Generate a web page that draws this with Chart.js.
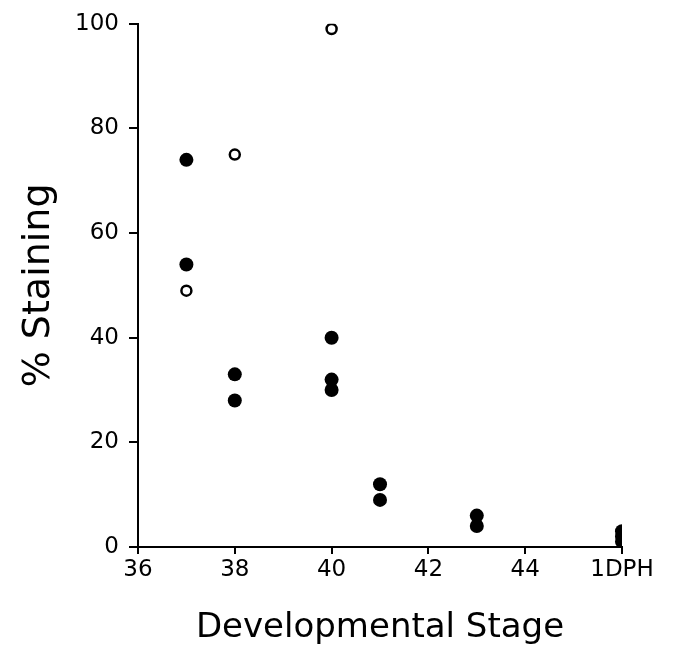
<!DOCTYPE html>
<html>
<head>
<meta charset="utf-8">
<script src="https://cdn.jsdelivr.net/npm/chart.js@4"></script>
<style>
  html, body { margin: 0; padding: 0; background: #fff; }
  #wrap { width: 673px; height: 669px; }
</style>
</head>
<body>
<div id="wrap"><canvas id="stainCanvas" width="673" height="669"></canvas></div>
<script>
// stages (46 = 1DPH) and % staining
const filledStage = [37, 37, 38, 38, 40, 40, 40, 41, 41, 43, 43, 46, 46, 46];
const filledValue = [74, 54, 33, 28, 40, 32, 30, 12, 9, 6, 4, 3, 2, 1];
const openStage = [37, 38, 40];
const openValue = [49, 75, 99];
const xTickLabels = { 36: "36", 38: "38", 40: "40", 42: "42", 44: "44", 46: "1DPH" };

const toPoints = (xs, ys) => xs.map((x, i) => ({ x: x, y: ys[i] }));
const font = "'DejaVu Sans', sans-serif";

const ctx = document.getElementById("stainCanvas").getContext("2d");
new Chart(ctx, {
    type: "scatter",
    data: {
        datasets: [
            {
                label: "filled",
                data: toPoints(filledStage, filledValue),
                pointRadius: 7,
                pointBackgroundColor: "#000",
                pointBorderColor: "#000",
                pointBorderWidth: 0
            },
            {
                label: "open",
                data: toPoints(openStage, openValue),
                pointRadius: 5,
                pointBackgroundColor: "#fff",
                pointBorderColor: "#000",
                pointBorderWidth: 2.5
            }
        ]
    },
    options: {
        responsive: false,
        animation: false,
        layout: { padding: { top: 22, right: 51, left: 0, bottom: 0 } },
        plugins: { legend: { display: false }, tooltip: { enabled: false } },
        scales: {
            x: {
                type: "linear",
                min: 36,
                max: 46,
                afterFit: s => { s.height = 122; },
                border: { display: true, color: "#000", width: 2 },
                grid: { drawOnChartArea: false, color: "#000", tickLength: 7, lineWidth: 2 },
                ticks: {
                    stepSize: 2,
                    color: "#000",
                    padding: 2,
                    font: { family: font, size: 23 },
                    callback: v => xTickLabels[v] || ""
                },
                title: {
                    display: true,
                    text: "Developmental Stage",
                    color: "#000",
                    font: { family: font, size: 34 },
                    padding: { top: 4, bottom: 20 }
                }
            },
            y: {
                min: 0,
                max: 100,
                afterFit: s => { s.width = 138; },
                border: { display: true, color: "#000", width: 2 },
                grid: { drawOnChartArea: false, color: "#000", tickLength: 9, lineWidth: 2 },
                ticks: {
                    stepSize: 20,
                    color: "#000",
                    padding: 10,
                    font: { family: font, size: 23 }
                },
                title: {
                    display: true,
                    text: "% Staining",
                    color: "#000",
                    font: { family: font, size: 38 },
                    padding: { top: 16, bottom: 4 }
                }
            }
        }
    }
});
</script>
</body>
</html>
